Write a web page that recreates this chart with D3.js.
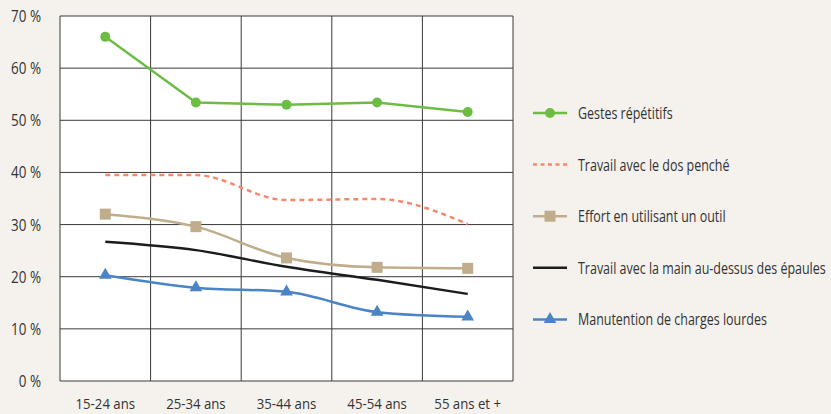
<!DOCTYPE html>
<html>
<head>
<meta charset="utf-8">
<script src="https://cdn.jsdelivr.net/npm/d3@7"></script>
<style>
  html, body { margin: 0; padding: 0; background: #f5f2ee; }
  svg text { font-family: "Open Sans", sans-serif; fill: #333; }
</style>
</head>
<body>
<div id="chart"></div>
<script>
// Age groups and series (percent)
const categories = ["15-24 ans", "25-34 ans", "35-44 ans", "45-54 ans", "55 ans et +"];
const yTicks = [0, 10, 20, 30, 40, 50, 60, 70];

const gestesRepetitifs = [66.0, 53.4, 53.0, 53.4, 51.6];
const dosPenche = [39.5, 39.5, 34.7, 34.9, 30.1];
const effortOutil = [32.0, 29.6, 23.6, 21.8, 21.6];
const mainEpaules = [26.7, 25.1, 21.9, 19.4, 16.7];
const chargesLourdes = [20.3, 17.9, 17.1, 13.2, 12.3];

const series = [
    { name: "Gestes répétitifs", values: gestesRepetitifs, color: "#6dbd45", marker: "circle", dash: null, curve: d3.curveLinear },
    { name: "Travail avec le dos penché", values: dosPenche, color: "#f4896c", marker: null, dash: "5,4", curve: d3.curveMonotoneX },
    { name: "Effort en utilisant un outil", values: effortOutil, color: "#bfad8b", marker: "square", dash: null, curve: d3.curveMonotoneX },
    { name: "Travail avec la main au-dessus des épaules", values: mainEpaules, color: "#1c1c1c", marker: null, dash: null, curve: d3.curveMonotoneX },
    { name: "Manutention de charges lourdes", values: chargesLourdes, color: "#4a84c6", marker: "triangle", dash: null, curve: d3.curveMonotoneX }
];

const width = 831;
const height = 414;
const margin = { top: 16, right: 318, bottom: 33, left: 60 };

const svg = d3.select("#chart")
    .append("svg")
    .attr("width", width)
    .attr("height", height);

const x = d3.scaleBand()
    .domain(categories)
    .range([margin.left, width - margin.right]);

const y = d3.scaleLinear()
    .domain([0, 70])
    .range([height - margin.bottom, margin.top]);

// Plot area
svg.append("rect")
    .attr("x", margin.left)
    .attr("y", margin.top)
    .attr("width", x.range()[1] - margin.left)
    .attr("height", y(0) - margin.top)
    .attr("fill", "#fff");

// Horizontal grid
svg.append("g")
    .selectAll("line")
    .data(yTicks)
    .join("line")
    .attr("x1", margin.left)
    .attr("x2", x.range()[1])
    .attr("y1", d => y(d))
    .attr("y2", d => y(d))
    .attr("stroke", "#3a3a3a")
    .attr("stroke-width", 1);

// Vertical grid (band boundaries)
const bounds = categories.map(c => x(c)).concat([x.range()[1]]);
svg.append("g")
    .selectAll("line")
    .data(bounds)
    .join("line")
    .attr("x1", d => d)
    .attr("x2", d => d)
    .attr("y1", margin.top)
    .attr("y2", y(0))
    .attr("stroke", "#3a3a3a")
    .attr("stroke-width", 1);

// Y labels
svg.append("g")
    .selectAll("text")
    .data(yTicks)
    .join("text")
    .attr("transform", d => `translate(41,${y(d) + 6}) scale(0.84,1)`)
    .attr("text-anchor", "end")
    .style("font-size", "16px")
    .text(d => d + " %");

// X labels
svg.append("g")
    .selectAll("text")
    .data(categories)
    .join("text")
    .attr("transform", d => `translate(${x(d) + x.bandwidth() / 2},409) scale(0.88,1)`)
    .attr("text-anchor", "middle")
    .style("font-size", "15px")
    .text(d => d);

const cx = i => x(categories[i]) + x.bandwidth() / 2;

function drawMarker(g, type, color) {
    if (type === "circle") {
        g.append("circle").attr("r", 5).attr("fill", color);
    } else if (type === "square") {
        g.append("rect").attr("x", -5.5).attr("y", -5.5).attr("width", 11).attr("height", 11).attr("fill", color);
    } else if (type === "triangle") {
        g.append("path").attr("d", d3.symbol(d3.symbolTriangle, 70)()).attr("fill", color);
    }
}

// Series lines
series.forEach(s => {
    const line = d3.line()
        .x((d, i) => cx(i))
        .y(d => y(d))
        .curve(s.curve);

    svg.append("path")
        .datum(s.values)
        .attr("d", line)
        .attr("fill", "none")
        .attr("stroke", s.color)
        .attr("stroke-width", 2.5)
        .attr("stroke-dasharray", s.dash);

    if (s.marker) {
        s.values.forEach((v, i) => {
            const g = svg.append("g").attr("transform", `translate(${cx(i)},${y(v)})`);
            drawMarker(g, s.marker, s.color);
        });
    }
});

// Legend
const legend = svg.append("g");
series.forEach((s, i) => {
    const ly = 113 + i * 51.6;
    const g = legend.append("g").attr("transform", `translate(0,${ly})`);
    g.append("line")
        .attr("x1", 533).attr("x2", 567)
        .attr("stroke", s.color)
        .attr("stroke-width", 2.5)
        .attr("stroke-dasharray", s.dash ? "4,3.5" : null);
    if (s.marker) {
        const m = g.append("g").attr("transform", "translate(550,0)");
        drawMarker(m, s.marker, s.color);
    }
    g.append("text")
        .attr("transform", "translate(578,6) scale(0.78,1)")
        .style("font-size", "16px")
        .text(s.name);
});
</script>
</body>
</html>
